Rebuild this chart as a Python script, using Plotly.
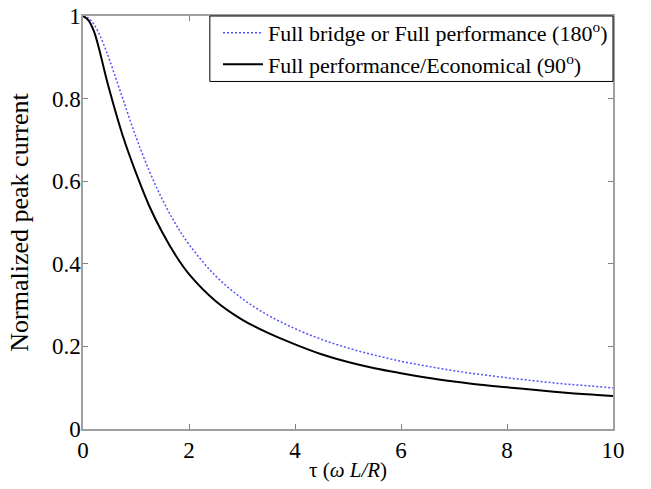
import plotly.graph_objects as go

tau = [0, 0.1, 0.2, 0.3, 0.4, 0.5, 0.75, 1.0, 1.25, 1.5, 1.75, 2.0, 2.5, 3.0, 3.5, 4.0, 4.5,
       5.0, 5.5, 6.0, 6.5, 7.0, 7.5, 8.0, 8.5, 9.0, 9.5, 10.0]
full_bridge_180 = [1.0, 0.995, 0.981, 0.958, 0.928, 0.894, 0.80, 0.707, 0.625, 0.555, 0.496, 0.447,
                   0.371, 0.316, 0.275, 0.243, 0.217, 0.196, 0.179, 0.164, 0.152, 0.141, 0.132,
                   0.124, 0.117, 0.110, 0.105, 0.0995]
economical_90 = [1.0, 0.99, 0.965, 0.922, 0.87, 0.82, 0.71, 0.62, 0.54, 0.475, 0.42, 0.375,
                 0.31, 0.265, 0.232, 0.205, 0.181, 0.162, 0.147, 0.135, 0.124, 0.115, 0.107,
                 0.101, 0.095, 0.089, 0.084, 0.080]

x_ticks = [0, 2, 4, 6, 8, 10]
y_ticks = [0, 0.2, 0.4, 0.6, 0.8, 1.0]
y_tick_labels = ["0", "0.2", "0.4", "0.6", "0.8", "1"]

font_family = "Liberation Serif"

fig = go.Figure()
fig.add_trace(go.Scatter(
    x=tau, y=full_bridge_180, mode="lines", line_shape="spline",
    line=dict(color="#5252ff", width=1.5, dash="2px,2px"),
    name="Full bridge or Full performance (180<sup>o</sup>)"))
fig.add_trace(go.Scatter(
    x=tau, y=economical_90, mode="lines", line_shape="spline",
    line=dict(color="black", width=2),
    name="Full performance/Economical (90<sup>o</sup>)"))

axis_common = dict(
    showline=True, linecolor="#a0a0a0", linewidth=1.5, mirror="ticks",
    ticks="inside", ticklen=5, tickcolor="#808080", tickwidth=1,
    showgrid=False, zeroline=False, automargin=False,
    tickfont=dict(family=font_family, size=23, color="black"),
)

fig.update_layout(
    width=651, height=489,
    margin=dict(l=83, r=38, t=13, b=60),
    paper_bgcolor="white", plot_bgcolor="white",
    font=dict(family=font_family, size=20, color="black"),
    xaxis=dict(range=[0, 10], tickvals=x_ticks,
               title=dict(text="τ (<i>ω L/R</i>)", font=dict(family=font_family, size=21), standoff=0),
               **axis_common),
    yaxis=dict(range=[0, 1], tickvals=y_ticks, ticktext=y_tick_labels, ticklabelstandoff=-4,
               title=dict(text="Normalized peak current", font=dict(family=font_family, size=26), standoff=16),
               **axis_common),
    legend=dict(x=1, y=1.01, xanchor="right", yanchor="top",
                bgcolor="rgba(0,0,0,0)", borderwidth=0,
                font=dict(family=font_family, size=22),
                tracegroupgap=0, itemwidth=40),
    showlegend=True,
)

# legend frame
fig.add_shape(type="rect", xref="paper", yref="paper",
              x0=0.2393, x1=1.0, y0=0.8415, y1=1.0,
              line=dict(color="black", width=1), fillcolor="white", layer="above")

fig.write_html("out.html", config={"displayModeBar": False},
               post_script="document.body.style.margin='0';")
